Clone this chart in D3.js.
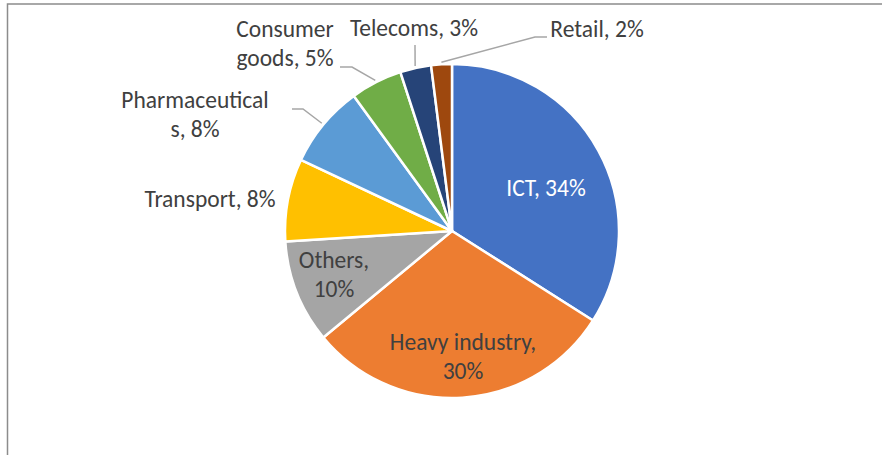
<!DOCTYPE html>
<html>
<head>
<meta charset="utf-8">
<script src="https://cdn.jsdelivr.net/npm/d3@7"></script>
<style>
  html, body { margin: 0; padding: 0; background: #fff; }
  svg text { font-family: Carlito, Calibri, Lato, sans-serif; font-size: 23.5px; fill: #404040; }
</style>
</head>
<body>
<svg id="chart" width="882" height="455"></svg>
<script>
// sectors, clockwise from 12 o'clock
const sectors = ['ICT', 'Heavy industry', 'Others', 'Transport', 'Pharmaceuticals', 'Consumer goods', 'Telecoms', 'Retail']
const shares = [34, 30, 10, 8, 8, 5, 3, 2]
const colors = ['#4472c4', '#ed7d31', '#a5a5a5', '#ffc000', '#5b9bd5', '#70ad47', '#264478', '#9e480e']

// label text lines as Excel wrapped them
const labelLines = [
    ['ICT, 34%'],
    ['Heavy industry,', '30%'],
    ['Others,', '10%'],
    ['Transport, 8%'],
    ['Pharmaceutical', 's, 8%'],
    ['Consumer', 'goods, 5%'],
    ['Telecoms, 3%'],
    ['Retail, 2%']
]

// label layout (centre x, first baseline y) and leader line start points
const labelAt = [[546, 196], [463, 350], [334, 268], [210, 207], [195, 108], [285, 37], [414, 36], [597, 37]]
const leaderFrom = [null, null, null, null, [[292, 109], [303, 109]], [[340, 67], [352, 67]], [[415, 45]], [[547, 37], [535, 37]]]

let svg = d3.select('#chart'),
    cx = 452,
    cy = 231,
    radius = 167

// frame (only top and left edges fall inside the picture)
svg.append('rect')
    .attr('x', 7.5)
    .attr('y', 4)
    .attr('width', 2000)
    .attr('height', 2000)
    .style('fill', 'none')
    .style('stroke', '#8c8c8c')
    .style('stroke-width', 1.5)

let pie = d3.pie().sort(null).value(function (d) { return d })
let arcs = pie(shares)

let arc = d3.arc().innerRadius(0).outerRadius(radius)

let g = svg.append('g').attr('transform', 'translate(' + cx + ',' + cy + ')')

g.selectAll('path.slice')
    .data(arcs)
    .enter().append('path')
    .attr('class', 'slice')
    .attr('d', arc)
    .style('fill', function (d, i) { return colors[i] })
    .style('stroke', '#fff')
    .style('stroke-width', 2.5)
    .style('stroke-linejoin', 'round')

// leader lines: from label to the middle of the slice edge
arcs.forEach(function (d, i) {
    if (!leaderFrom[i]) return
    let mid = (d.startAngle + d.endAngle) / 2
    let end = [cx + Math.sin(mid) * (radius + 2), cy - Math.cos(mid) * (radius + 2)]
    let pts = leaderFrom[i].concat([end])
    svg.append('path')
        .attr('d', d3.line()(pts))
        .style('fill', 'none')
        .style('stroke', '#a6a6a6')
        .style('stroke-width', 1.5)
})

// labels
let lineGap = 29
sectors.forEach(function (s, i) {
    let t = svg.append('text')
        .attr('text-anchor', 'middle')
        .attr('x', labelAt[i][0])
        .attr('y', labelAt[i][1])
        .style('fill', i === 0 ? '#fff' : '#404040')
    labelLines[i].forEach(function (line, j) {
        t.append('tspan')
            .attr('x', labelAt[i][0])
            .attr('dy', j === 0 ? 0 : lineGap)
            .text(line)
    })
})
</script>
</body>
</html>
